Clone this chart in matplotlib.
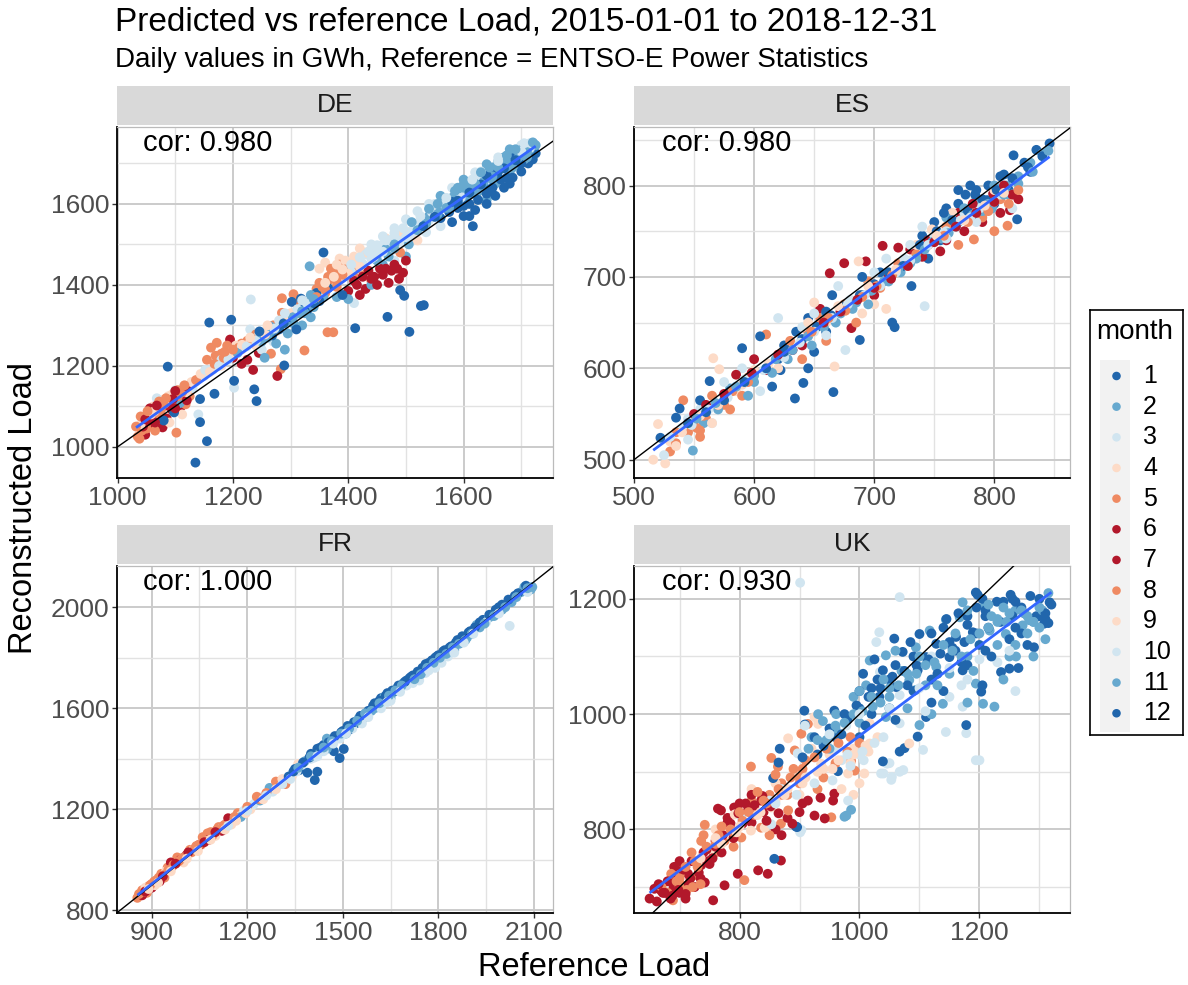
import numpy as np
import matplotlib
matplotlib.use("Agg")
import matplotlib.pyplot as plt
from matplotlib.patches import Rectangle
from matplotlib.ticker import MultipleLocator

plt.rcParams['font.family'] = ['Liberation Sans', 'DejaVu Sans']

# ---------------- data ----------------
months = [1, 2, 3, 4, 5, 6, 7, 8, 9, 10, 11, 12]
month_colors = ['#2166AC', '#67A9CF', '#D1E5F0', '#FDDBC7', '#EF8A62', '#B2182B',
                '#B2182B', '#EF8A62', '#FDDBC7', '#D1E5F0', '#67A9CF', '#2166AC']
countries = ['DE', 'ES', 'FR', 'UK']
cor_labels = ['cor: 0.980', 'cor: 0.980', 'cor: 1.000', 'cor: 0.930']

# DE: reference load, reconstructed load, month
de_ref = [
    1048, 1060, 1072, 1085, 1095, 1058, 1110, 1078,
    1035, 1042, 1052, 1065, 1070, 1088, 1100, 1118, 1038, 1102, 1125,
    1062, 1075, 1090, 1112, 1125,
    1068, 1100, 1130, 1140,
    1087, 1135, 1155, 1143, 1143, 1168, 1080, 1098,
    1060, 1108,
    1155, 1170, 1185, 1162, 1172, 1195, 1215, 1230, 1250, 1285, 1305, 1309, 1285, 1266, 1324, 1283,
    1195, 1200, 1215, 1225, 1235, 1277, 1245,
    1180, 1205, 1240, 1260, 1275, 1150,
    1160, 1200, 1202, 1231, 1250, 1270, 1290, 1230, 1310,
    1255, 1275, 1295, 1305, 1320, 1335, 1290,
    1159, 1197, 1202, 1237, 1241, 1289, 1302, 1318, 1268, 1310, 1330,
    1345, 1355, 1365, 1375, 1385, 1395, 1360, 1380, 1405, 1364, 1374, 1420, 1440,
    1400, 1415, 1430, 1445, 1460, 1475, 1488, 1495, 1470, 1420,
    1360, 1385, 1410, 1430, 1350, 1400,
    1420, 1440, 1460, 1475, 1495, 1450, 1510, 1480, 1410,
    1357, 1380, 1400, 1440, 1333, 1460, 1500,
    1357, 1412, 1468, 1490, 1497, 1506, 1526, 1531, 1390, 1350,
    1520, 1540, 1555, 1575, 1590, 1610, 1535, 1650, 1700, 1715, 1560,
    1530, 1550, 1570, 1590, 1605, 1620, 1635, 1645, 1660, 1675, 1690, 1700, 1710, 1720, 1625, 1655, 1680, 1695, 1640, 1665,
    1560, 1580, 1600, 1616, 1620, 1640, 1655, 1670, 1685, 1700, 1712, 1725, 1630, 1660, 1690, 1715, 1600, 1575, 1645, 1675,
    1585, 1615, 1650, 1685, 1705, 1722,
    1505, 1480, 1520,
    1490,
    1045, 1055, 1068, 1080, 1092, 1105, 1115, 1050, 1062, 1075,
    1055, 1065, 1090, 1100, 1120, 1044,
    1040, 1058, 1082, 1095, 1120,
    1085, 1115, 1150, 1165, 1135,
    1180, 1200, 1190, 1210, 1225, 1240, 1255, 1270,
    1195, 1215, 1230, 1260, 1285, 1300, 1320, 1340,
    1215, 1245, 1265, 1285, 1300, 1320, 1340, 1355, 1180, 1170,
    1250, 1265, 1280, 1300, 1315, 1330, 1345, 1340, 1325, 1260,
    1300, 1320, 1340, 1345, 1280,
    1350, 1365, 1378, 1390, 1400, 1410, 1425, 1370, 1385,
    1410, 1425, 1440, 1455, 1465, 1480, 1500, 1435, 1450, 1485,
    1380, 1395, 1420, 1445, 1465,
    1430, 1450, 1470, 1490, 1505, 1515, 1440, 1460,
    1450, 1470, 1480, 1505,
    1545, 1565, 1585, 1600, 1620, 1640, 1660, 1680, 1695, 1710,
    1540, 1560, 1580, 1600, 1615, 1630, 1650, 1665, 1680, 1695, 1705, 1715, 1725, 1590, 1610, 1640, 1670, 1700,
    1590, 1610, 1625, 1650, 1665, 1680, 1700, 1720, 1610, 1640,
    1620, 1635, 1660, 1685, 1700, 1710,
    1032, 1040, 1048, 1056, 1064, 1072, 1080, 1088, 1096, 1104, 1112, 1120, 1128, 1136, 1144, 1052, 1068, 1084, 1100, 1116,
    1152, 1160, 1168, 1176, 1184, 1192, 1200, 1208, 1216, 1224, 1232, 1240, 1248, 1256, 1264, 1272, 1280, 1288, 1296, 1304, 1312, 1320, 1328, 1186, 1246,
    1335, 1345, 1355, 1365, 1375, 1385, 1395, 1405, 1415, 1425, 1435, 1445, 1455, 1465, 1475, 1485, 1495, 1505, 1515, 1340, 1360, 1380, 1400, 1420, 1440, 1460, 1480, 1500, 1520, 1390,
    1525, 1535, 1545, 1555, 1565, 1575, 1585, 1595, 1605, 1615, 1625, 1635, 1645, 1655, 1665, 1675, 1685, 1695, 1705, 1715, 1530, 1550, 1570, 1590, 1610, 1630, 1650, 1670, 1690, 1710, 1620, 1660, 1700, 1580, 1640,
    1480, 1500, 1520, 1540, 1560, 1580, 1600, 1620, 1640, 1660, 1680, 1550, 1590, 1630,
    1360, 1375, 1390, 1405, 1420, 1435, 1450, 1465, 1480, 1495, 1510, 1525, 1540, 1555, 1570, 1585, 1600, 1615, 1630, 1645, 1660, 1675, 1690, 1705, 1720, 1230, 1260, 1290, 1320, 1200,
]
de_rec = [
    1030, 1055, 1078, 1070, 1090, 1082, 1100, 1048,
    1025, 1040, 1060, 1040, 1095, 1110, 1120, 1105, 1020, 1035, 1125,
    1100, 1115, 1060, 1080, 1150,
    1120, 1140, 1145, 1080,
    1198, 961, 1014, 1061, 1118, 1131, 1065, 1085,
    1068, 1108,
    1215, 1225, 1228, 1245, 1257, 1240, 1255, 1265, 1270, 1367, 1377, 1356, 1331, 1230, 1238, 1192,
    1265, 1220, 1205, 1215, 1190, 1175, 1232,
    1200, 1250, 1250, 1270, 1285, 1180,
    1190, 1235, 1146, 1364, 1240, 1260, 1300, 1290, 1335,
    1220, 1255, 1280, 1305, 1300, 1320, 1240,
    1307, 1314, 1163, 1142, 1113, 1201, 1358, 1366, 1275, 1290, 1340,
    1390, 1400, 1420, 1430, 1415, 1445, 1380, 1395, 1435, 1283, 1283, 1440, 1410,
    1385, 1400, 1390, 1420, 1425, 1435, 1415, 1430, 1405, 1375,
    1455, 1465, 1470, 1480, 1440, 1455,
    1460, 1490, 1500, 1485, 1505, 1470, 1520, 1460, 1355,
    1370, 1370, 1365, 1400, 1446, 1450, 1470,
    1480, 1293, 1321, 1387, 1373, 1284, 1348, 1350, 1375, 1360,
    1540, 1560, 1580, 1590, 1610, 1640, 1530, 1690, 1745, 1750, 1545,
    1555, 1575, 1600, 1625, 1615, 1655, 1645, 1670, 1690, 1700, 1715, 1730, 1720, 1740, 1630, 1650, 1680, 1695, 1610, 1705,
    1565, 1555, 1570, 1545, 1585, 1600, 1620, 1640, 1665, 1680, 1700, 1725, 1660, 1680, 1700, 1740, 1595, 1580, 1635, 1665,
    1600, 1625, 1660, 1690, 1710, 1748,
    1530, 1500, 1510,
    1480,
    1060, 1070, 1085, 1100, 1105, 1125, 1130, 1045, 1075, 1090,
    1065, 1060, 1100, 1095, 1115, 1050,
    1055, 1080, 1108, 1130, 1135,
    1120, 1150, 1175, 1190, 1160,
    1230, 1235, 1250, 1245, 1262, 1278, 1280, 1300,
    1225, 1240, 1260, 1290, 1310, 1330, 1345, 1370,
    1245, 1275, 1290, 1300, 1320, 1345, 1360, 1385, 1215, 1200,
    1260, 1285, 1300, 1310, 1330, 1355, 1370, 1345, 1330, 1270,
    1320, 1340, 1355, 1380, 1290,
    1405, 1410, 1425, 1430, 1440, 1420, 1450, 1440, 1450,
    1410, 1420, 1415, 1440, 1440, 1450, 1460, 1435, 1400, 1440,
    1450, 1460, 1490, 1495, 1515,
    1475, 1485, 1510, 1520, 1530, 1545, 1500, 1520,
    1460, 1470, 1490, 1500,
    1575, 1600, 1615, 1630, 1660, 1680, 1700, 1720, 1735, 1745,
    1570, 1590, 1615, 1640, 1650, 1670, 1690, 1700, 1720, 1730, 1740, 1735, 1745, 1620, 1645, 1680, 1715, 1725,
    1590, 1600, 1610, 1640, 1660, 1650, 1700, 1710, 1570, 1625,
    1665, 1680, 1705, 1710, 1720, 1715,
    1050, 1075, 1068, 1095, 1088, 1112, 1105, 1125, 1118, 1140, 1135, 1150, 1160, 1165, 1180, 1088, 1102, 1120, 1138, 1152,
    1190, 1185, 1205, 1200, 1220, 1215, 1238, 1232, 1252, 1248, 1268, 1262, 1282, 1278, 1298, 1292, 1312, 1305, 1325, 1320, 1340, 1335, 1355, 1235, 1285,
    1375, 1370, 1395, 1392, 1418, 1412, 1438, 1432, 1458, 1452, 1478, 1470, 1495, 1488, 1512, 1505, 1530, 1522, 1548, 1365, 1388, 1408, 1428, 1445, 1465, 1482, 1500, 1518, 1535, 1425,
    1560, 1552, 1580, 1575, 1600, 1592, 1622, 1615, 1642, 1636, 1662, 1655, 1682, 1676, 1702, 1695, 1722, 1715, 1740, 1738, 1545, 1568, 1590, 1608, 1628, 1648, 1668, 1688, 1708, 1728, 1650, 1690, 1730, 1605, 1670,
    1540, 1562, 1582, 1600, 1620, 1640, 1660, 1678, 1698, 1715, 1735, 1600, 1640, 1680,
    1405, 1420, 1438, 1450, 1468, 1482, 1498, 1510, 1528, 1540, 1555, 1570, 1588, 1600, 1615, 1632, 1648, 1660, 1678, 1690, 1706, 1720, 1735, 1750, 1752, 1270, 1300, 1330, 1362, 1240,
]
de_month = [
    7, 7, 7, 7, 7, 7, 7, 7,
    5, 5, 5, 5, 5, 5, 5, 5, 5, 5, 5,
    4, 4, 4, 4, 4,
    3, 3, 3, 3,
    1, 1, 1, 1, 1, 1, 1, 1,
    2, 2,
    8, 8, 8, 8, 8, 8, 8, 8, 8, 8, 8, 8, 8, 8, 8, 8,
    6, 6, 6, 6, 6, 6, 6,
    9, 9, 9, 9, 9, 9,
    10, 10, 10, 10, 10, 10, 10, 10, 10,
    11, 11, 11, 11, 11, 11, 11,
    12, 12, 12, 12, 12, 12, 12, 12, 12, 12, 12,
    5, 5, 5, 5, 5, 5, 5, 5, 5, 5, 5, 5, 5,
    7, 7, 7, 7, 7, 7, 7, 7, 7, 7,
    4, 4, 4, 4, 4, 4,
    3, 3, 3, 3, 3, 3, 3, 3, 3,
    2, 2, 2, 2, 2, 2, 2,
    1, 1, 1, 1, 1, 1, 1, 1, 1, 1,
    10, 10, 10, 10, 10, 10, 10, 10, 10, 10, 10,
    2, 2, 2, 2, 2, 2, 2, 2, 2, 2, 2, 2, 2, 2, 2, 2, 2, 2, 2, 2,
    12, 12, 12, 12, 12, 12, 12, 12, 12, 12, 12, 12, 12, 12, 12, 12, 12, 12, 12, 12,
    11, 11, 11, 11, 11, 11,
    9, 9, 9,
    8,
    8, 8, 8, 8, 8, 8, 8, 8, 8, 8,
    6, 6, 6, 6, 6, 6,
    9, 9, 9, 9, 9,
    10, 10, 10, 10, 10,
    5, 5, 5, 5, 5, 5, 5, 5,
    9, 9, 9, 9, 9, 9, 9, 9,
    3, 3, 3, 3, 3, 3, 3, 3, 3, 3,
    11, 11, 11, 11, 11, 11, 11, 11, 11, 11,
    12, 12, 12, 12, 12,
    8, 8, 8, 8, 8, 8, 8, 8, 8,
    6, 6, 6, 6, 6, 6, 6, 6, 6, 6,
    9, 9, 9, 9, 9,
    10, 10, 10, 10, 10, 10, 10, 10,
    11, 11, 11, 11,
    10, 10, 10, 10, 10, 10, 10, 10, 10, 10,
    11, 11, 11, 11, 11, 11, 11, 11, 11, 11, 11, 11, 11, 11, 11, 11, 11, 11,
    1, 1, 1, 1, 1, 1, 1, 1, 1, 1,
    2, 2, 2, 2, 2, 2,
    5, 8, 6, 7, 9, 5, 8, 4, 6, 5, 8, 7, 9, 5, 4, 8, 6, 5, 7, 8,
    10, 9, 5, 3, 8, 10, 4, 11, 9, 3, 5, 10, 2, 9, 11, 3, 10, 12, 4, 11, 3, 2, 10, 8, 12,
    11, 8, 5, 12, 8, 9, 5, 10, 4, 3, 9, 10, 3, 11, 10, 3, 9, 10, 3, 2, 5, 8, 4, 9, 10, 3, 11, 10, 2, 8,
    10, 2, 3, 11, 10, 2, 11, 3, 2, 11, 10, 2, 11, 1, 2, 11, 12, 2, 11, 10, 1, 12, 2, 1, 12, 1, 11, 12, 1, 2, 11, 2, 10, 12, 1,
    3, 10, 3, 10, 11, 3, 2, 10, 11, 3, 2, 10, 11, 3,
    9, 4, 9, 3, 10, 3, 10, 3, 10, 3, 11, 10, 2, 11, 10, 2, 11, 3, 2, 11, 10, 2, 11, 10, 2, 9, 4, 3, 10, 5,
]

# ES
es_ref = [
    516, 526, 520, 566, 571, 548, 585, 530,
    530, 541, 545, 555, 560, 575, 590, 535, 595, 610,
    549, 558, 580, 600, 570,
    545, 555, 565, 575, 540, 590, 620, 605,
    522, 538, 535, 563, 590, 605, 555, 580, 600, 615,
    585, 550, 600, 610, 560,
    634, 641, 666, 620, 625, 635, 645, 655, 665, 672, 688, 700, 715, 717, 731, 650, 660, 690, 705, 680, 622, 645,
    663, 675, 693, 681, 707, 720, 640, 655, 700, 712, 632,
    667, 687, 660, 690, 620, 650, 700, 710,
    630, 645, 660, 675, 695, 705, 720, 655, 685, 640,
    676, 742, 625, 650, 670, 690, 710, 680, 700, 725, 640,
    628, 648, 668, 682, 698, 712, 722, 695, 660, 615,
    776, 785, 794, 819, 816, 846, 835, 740, 750, 760, 770, 780, 795, 805, 812, 790, 765, 745, 755, 825, 830, 800, 770,
    799, 813, 730, 745, 760, 775, 790, 805, 770, 755, 740,
    811, 800, 783, 735, 760, 770, 790, 805, 745,
    748, 770, 780, 800, 765, 735, 815,
    730, 750, 760, 775, 790, 805, 820, 740, 785, 815,
    735, 748, 760, 775, 785, 798, 810, 820, 830, 840, 770, 800, 812,
    535, 545, 558, 570, 582, 595, 565, 552,
    540, 555, 570, 590, 600, 612,
    530, 548, 562, 578, 592, 608, 625,
    545, 560, 575, 592, 610, 625,
    552, 568, 585, 600, 618,
    575, 598, 620,
    640, 652, 664, 676, 688, 700, 712, 724, 660, 690,
    632, 645, 658, 672, 685, 697, 708, 720, 730,
    638, 650, 665, 678, 692, 705, 718, 730, 660,
    648, 662, 676, 690, 702, 715, 728,
    658, 672, 686, 700, 714, 728,
    645, 670, 695, 718,
    738, 752, 765, 778, 790, 802, 815, 828, 840, 758, 784, 808,
    742, 756, 768, 782, 795, 808, 820, 832, 845, 762, 790,
    745, 758, 772, 788, 800, 760, 780,
    750, 768, 785, 800, 815, 782, 808, 820,
    758, 778, 795, 812, 820,
    752, 775, 792, 808,
    525, 535, 545, 555, 565, 580, 595,
]
es_rec = [
    500, 496, 539, 611, 599, 540, 575, 520,
    509, 565, 530, 525, 545, 560, 570, 518, 590, 637,
    510, 540, 578, 585, 555,
    545, 555, 540, 585, 535, 600, 655, 575,
    524, 556, 546, 586, 622, 635, 565, 575, 595, 580,
    593, 550, 610, 598, 560,
    567, 584, 574, 610, 625, 640, 655, 650, 680, 662, 631, 690, 650, 645, 690, 618, 640, 680, 705, 670, 598, 600,
    704, 715, 717, 644, 734, 732, 625, 665, 680, 700, 620,
    602, 717, 650, 660, 600, 672, 670, 665,
    630, 640, 630, 670, 695, 688, 715, 655, 650, 610,
    620, 668, 615, 660, 690, 700, 720, 675, 705, 720, 645,
    610, 625, 650, 665, 685, 695, 705, 670, 660, 595,
    790, 795, 784, 763, 833, 846, 839, 745, 760, 775, 795, 800, 800, 810, 795, 770, 760, 720, 740, 825, 815, 780, 780,
    791, 773, 730, 740, 740, 750, 760, 770, 770, 728, 722,
    756, 750, 741, 725, 755, 735, 765, 785, 735,
    752, 760, 775, 795, 770, 735, 790,
    735, 745, 750, 770, 780, 790, 800, 755, 760, 775,
    720, 738, 765, 775, 785, 775, 800, 810, 825, 835, 760, 800, 790,
    530, 540, 548, 560, 575, 585, 570, 535,
    530, 548, 560, 582, 598, 605,
    525, 538, 555, 568, 588, 598, 612,
    540, 552, 565, 585, 600, 618,
    545, 562, 580, 592, 610,
    572, 595, 615,
    632, 645, 658, 668, 680, 692, 705, 712, 662, 700,
    620, 635, 645, 660, 672, 685, 695, 708, 715,
    628, 640, 655, 670, 680, 690, 705, 718, 636,
    640, 655, 663, 678, 690, 702, 712,
    650, 662, 675, 688, 698, 712,
    650, 668, 690, 708,
    735, 750, 762, 772, 785, 795, 808, 820, 832, 770, 790, 812,
    730, 742, 755, 768, 780, 790, 802, 815, 838, 748, 772,
    735, 748, 762, 775, 782, 742, 765,
    738, 755, 770, 782, 790, 780, 800, 785,
    745, 760, 772, 780, 795,
    745, 762, 778, 792,
    505, 515, 522, 532, 540, 555, 570,
]
es_month = [
    4, 4, 4, 4, 4, 4, 4, 4,
    5, 5, 5, 5, 5, 5, 5, 5, 5, 5,
    2, 2, 2, 2, 2,
    3, 3, 3, 3, 3, 3, 3, 3,
    1, 1, 1, 1, 1, 1, 1, 1, 1, 1,
    6, 6, 6, 6, 6,
    12, 12, 12, 12, 12, 12, 12, 12, 12, 12, 12, 12, 12, 12, 12, 12, 12, 12, 12, 12, 12, 12,
    7, 7, 7, 7, 7, 7, 7, 7, 7, 7, 7,
    9, 9, 9, 9, 9, 9, 9, 9,
    8, 8, 8, 8, 8, 8, 8, 8, 8, 8,
    10, 10, 10, 10, 10, 10, 10, 10, 10, 10, 10,
    11, 11, 11, 11, 11, 11, 11, 11, 11, 11,
    1, 1, 1, 1, 1, 1, 1, 1, 1, 1, 1, 1, 1, 1, 1, 1, 1, 1, 1, 1, 1, 1, 1,
    6, 6, 6, 6, 6, 6, 6, 6, 6, 6, 6,
    5, 5, 5, 5, 5, 5, 5, 5, 5,
    4, 4, 4, 4, 4, 4, 4,
    3, 3, 3, 3, 3, 3, 3, 3, 3, 3,
    2, 2, 2, 2, 2, 2, 2, 2, 2, 2, 2, 2, 2,
    8, 8, 8, 8, 8, 8, 8, 8,
    9, 9, 9, 9, 9, 9,
    10, 10, 10, 10, 10, 10, 10,
    12, 12, 12, 12, 12, 12,
    11, 11, 11, 11, 11,
    7, 7, 7,
    1, 1, 1, 1, 1, 1, 1, 1, 1, 1,
    2, 2, 2, 2, 2, 2, 2, 2, 2,
    3, 3, 3, 3, 3, 3, 3, 3, 3,
    5, 5, 5, 5, 5, 5, 5,
    6, 6, 6, 6, 6, 6,
    4, 4, 4, 4,
    12, 12, 12, 12, 12, 12, 12, 12, 12, 12, 12, 12,
    11, 11, 11, 11, 11, 11, 11, 11, 11, 11, 11,
    10, 10, 10, 10, 10, 10, 10,
    7, 7, 7, 7, 7, 7, 7, 7,
    8, 8, 8, 8, 8,
    9, 9, 9, 9,
    10, 9, 3, 8, 4, 5, 2,
]

# FR
fr_ref = [
    855, 870, 885, 900, 915, 930, 950, 965, 980, 1000, 1020, 1040, 1060, 1075, 1085, 1100, 1110, 1130, 1145, 1170, 1055, 890, 940,
    870, 900, 925, 960, 990, 1010, 1050, 1080, 1120, 1140,
    880, 910, 945, 1000, 1030, 1070, 1100, 1150, 1180, 1210,
    1120, 1160, 1190, 1220, 1250, 1280, 1300, 1230,
    1180, 1240, 1270, 1290,
    1200, 1230, 1260, 1290, 1320, 1240,
    1310, 1340, 1360,
    1330, 1350, 1363, 1389, 1412, 1420, 1472, 1490, 1503, 1400, 1420, 1440, 1460, 1480, 1500, 1520, 1540, 1560, 1580, 1600, 1620, 1640, 1660, 1680,
    1380, 1430, 1450, 1470, 1510, 1530, 1550, 1575, 1600, 1630, 1650, 1670, 1690, 1450,
    1370, 1410, 1440, 1490, 1530, 1560, 1620, 1650, 1400,
    1700, 1720, 1740, 1760, 1780, 1800, 1820, 1840, 1860, 1880, 1900, 1940, 1980, 2000, 2040, 1710, 1790, 1850,
    1705, 1730, 1755, 1775, 1800, 1830, 1850, 1870, 1890, 1920, 1960, 2000, 2030, 2060, 2090, 1930, 2070,
    1720, 1760, 1790, 1810, 1830, 2024, 2080, 1950, 1700, 1740,
    860, 878, 895, 908, 922, 938, 952, 968, 985, 995, 1008, 1025, 1035, 1048, 1065, 1090, 1105, 1125, 1160,
    880, 935, 975, 1015, 1065, 1100,
    890, 920, 960, 1010, 1045, 1085, 1130, 1165, 1195, 1250, 1290,
    1140, 1200, 1260, 1310, 1335, 1355,
    1345, 1375, 1395, 1430, 1455, 1475, 1495, 1515, 1535, 1555, 1575, 1595, 1615, 1635, 1655, 1675, 1695,
    1360, 1400, 1440, 1465, 1495, 1520, 1545, 1570, 1590, 1615, 1645, 1665, 1685,
    1420, 1470, 1510, 1580, 1640, 1680,
    1715, 1735, 1750, 1770, 1795, 1815, 1835, 1855, 1875, 1895, 1915, 1930, 1960, 1990, 2020, 2050, 2075,
    1725, 1745, 1765, 1785, 1805, 1825, 1845, 1865, 1885, 1905, 1945, 1975, 2010, 2045, 2080, 2095,
    1770, 1850, 1880, 1910, 1990,
]
fr_rec = [
    850, 880, 870, 905, 920, 945, 970, 975, 1010, 1010, 1040, 1055, 1090, 1105, 1110, 1105, 1130, 1140, 1150, 1185, 1060, 895, 930,
    860, 890, 915, 990, 1000, 1020, 1060, 1080, 1115, 1165,
    890, 900, 955, 990, 1040, 1075, 1095, 1140, 1175, 1200,
    1125, 1160, 1195, 1220, 1250, 1270, 1300, 1240,
    1170, 1235, 1285, 1290,
    1210, 1250, 1265, 1310, 1300, 1240,
    1320, 1330, 1380,
    1330, 1360, 1355, 1345, 1316, 1349, 1430, 1403, 1439, 1420, 1440, 1455, 1470, 1485, 1510, 1515, 1540, 1555, 1590, 1620, 1640, 1660, 1665, 1690,
    1390, 1430, 1440, 1480, 1500, 1530, 1560, 1570, 1600, 1645, 1640, 1680, 1700, 1480,
    1375, 1405, 1430, 1480, 1520, 1540, 1600, 1630, 1400,
    1710, 1730, 1745, 1775, 1790, 1810, 1830, 1845, 1870, 1880, 1905, 1950, 1990, 2010, 2045, 1720, 1800, 1850,
    1700, 1725, 1750, 1770, 1790, 1820, 1830, 1860, 1880, 1930, 1960, 1990, 2020, 2060, 2070, 1920, 2080,
    1700, 1740, 1760, 1780, 1805, 1926, 2060, 1940, 1690, 1710,
    865, 875, 900, 915, 930, 940, 960, 980, 995, 1005, 1015, 1030, 1045, 1060, 1075, 1095, 1120, 1135, 1170,
    875, 935, 985, 1030, 1070, 1110,
    885, 910, 955, 1005, 1035, 1080, 1120, 1155, 1185, 1240, 1280,
    1135, 1195, 1255, 1300, 1320, 1350,
    1350, 1385, 1405, 1445, 1465, 1490, 1505, 1530, 1545, 1570, 1580, 1610, 1630, 1650, 1670, 1690, 1705,
    1365, 1410, 1445, 1470, 1500, 1520, 1550, 1580, 1590, 1620, 1650, 1670, 1690,
    1410, 1460, 1500, 1565, 1625, 1665,
    1725, 1745, 1760, 1780, 1805, 1825, 1840, 1860, 1885, 1900, 1920, 1940, 1970, 2000, 2030, 2055, 2085,
    1715, 1735, 1760, 1780, 1800, 1815, 1840, 1855, 1870, 1895, 1935, 1965, 2000, 2040, 2075, 2080,
    1750, 1820, 1860, 1895, 1975,
]
fr_month = [
    5, 5, 5, 5, 5, 5, 5, 5, 5, 5, 5, 5, 5, 5, 5, 5, 5, 5, 5, 5, 5, 5, 5,
    6, 6, 6, 6, 6, 6, 6, 6, 6, 6,
    9, 9, 9, 9, 9, 9, 9, 9, 9, 9,
    10, 10, 10, 10, 10, 10, 10, 10,
    11, 11, 11, 11,
    8, 8, 8, 8, 8, 8,
    4, 4, 4,
    1, 1, 1, 1, 1, 1, 1, 1, 1, 1, 1, 1, 1, 1, 1, 1, 1, 1, 1, 1, 1, 1, 1, 1,
    2, 2, 2, 2, 2, 2, 2, 2, 2, 2, 2, 2, 2, 2,
    3, 3, 3, 3, 3, 3, 3, 3, 3,
    12, 12, 12, 12, 12, 12, 12, 12, 12, 12, 12, 12, 12, 12, 12, 12, 12, 12,
    11, 11, 11, 11, 11, 11, 11, 11, 11, 11, 11, 11, 11, 11, 11, 11, 11,
    10, 10, 10, 10, 10, 10, 10, 10, 10, 10,
    8, 8, 8, 8, 8, 8, 8, 8, 8, 8, 8, 8, 8, 8, 8, 8, 8, 8, 8,
    7, 7, 7, 7, 7, 7,
    4, 4, 4, 4, 4, 4, 4, 4, 4, 4, 4,
    3, 3, 3, 3, 3, 3,
    12, 12, 12, 12, 12, 12, 12, 12, 12, 12, 12, 12, 12, 12, 12, 12, 12,
    11, 11, 11, 11, 11, 11, 11, 11, 11, 11, 11, 11, 11,
    10, 10, 10, 10, 10, 10,
    1, 1, 1, 1, 1, 1, 1, 1, 1, 1, 1, 1, 1, 1, 1, 1, 1,
    2, 2, 2, 2, 2, 2, 2, 2, 2, 2, 2, 2, 2, 2, 2, 2,
    3, 3, 3, 3, 3,
]

# UK
uk_ref = [
    658, 669, 691, 714, 725, 756, 769, 764, 791, 814, 836, 847, 847, 869, 831, 797, 775, 742, 736, 914,
    686, 703, 689, 742, 736, 775, 803, 836, 819, 853, 864, 903, 914, 892, 825, 869, 953, 992, 986,
    925, 956, 958, 942, 680, 700, 720, 740, 760, 780, 800, 820, 840, 860, 880, 900, 710, 750, 790,
    958, 881, 808, 764, 700, 720, 760, 790, 820, 850, 870, 900, 930, 850, 880, 910, 940, 730, 670,
    753, 881, 925, 931, 936, 981, 1008, 781, 792, 842, 819, 853,
    760, 820, 860, 890, 920, 950, 970, 1000, 990, 900, 730, 700,
    803, 903, 981, 853, 897, 901, 945, 850, 870, 960,
    867, 908, 894, 856, 858, 964, 944, 958, 909, 865, 896, 1194, 1197, 1252, 1317, 1308, 1315, 1291, 1229, 1058, 1072, 1128, 1161, 1189, 1250, 1236, 1203, 1172, 1150, 1111, 1097,
    975, 986, 931, 961, 939, 978, 1208, 1172, 1144, 1167, 1117, 1044, 1094, 1217, 1244, 1272, 1283, 1261, 1194, 1128, 1083, 1017, 1011, 1094, 1139,
    901, 909, 978, 1012, 1034, 1067, 945, 1007, 1046, 1073, 1040, 1054, 1200, 1033, 1028, 1067, 1122, 1150, 1172, 1178, 1194, 1144, 1067, 994, 1050, 1067, 1053, 1036, 1106, 1000, 970, 1120, 1180, 1230, 1260,
    1061, 1039, 1006, 1033, 1178, 1111, 1097, 1067, 1075, 1039, 1100, 980, 1000, 1020, 1050, 1080, 1120, 1140, 1160, 1200, 1220, 1260, 1280, 1020, 1060, 1000, 960, 930, 1140, 1180, 1210,
    1206, 1225, 1100, 1044, 1022, 960, 990, 1050, 1070, 1110, 1150, 1180, 1230, 1260, 1300, 1310, 1290, 1240, 1180, 1120, 1080, 1000, 950, 920,
    1083, 1017, 1017, 990,
    665, 678, 695, 705, 718, 732, 748, 760, 772, 785, 798, 810, 825, 838, 852, 865, 700, 745, 780, 820,
    690, 715, 735, 755, 770, 790, 805, 822, 845, 870, 888, 905, 935,
    680, 700, 725, 745, 765, 785, 805, 825, 845, 865, 885, 905, 925, 945, 965, 985, 710, 740, 770, 800, 830, 860, 890,
    695, 730, 760, 790, 815, 840, 870, 900, 935, 960, 980, 1000,
    735, 770, 800, 830, 860, 880, 910, 940, 965, 990, 1010, 1030,
    760, 795, 835, 875, 905, 930, 955, 985, 1015,
    860, 895, 925, 955, 985, 1005, 1025,
    905, 925, 950, 975, 995, 1015, 1035, 1055, 1075, 1095, 1115, 1135, 1155, 1175, 1195, 1215, 1235, 1255, 1275, 1295, 1310, 1010, 1050, 1090, 1130, 1170, 1210, 1250,
    940, 970, 1000, 1030, 1060, 1090, 1120, 1150, 1180, 1210, 1240, 1270, 1300, 1025, 1085, 1145, 1205, 1265, 1120, 1180,
    915, 945, 975, 1005, 1035, 1065, 1095, 1125, 1155, 1185, 1215, 1245, 1275, 1305, 1040, 1100, 1160, 1220, 1280,
    930, 960, 990, 1020, 1050, 1080, 1110, 1140, 1170, 1200, 1230, 1260, 1290, 1000, 1060, 1130, 1190, 1250,
    950, 1000, 1050, 1100, 1150, 1200, 1250, 980, 1040, 1110, 1170,
    1240, 1260, 1280, 1300, 1320, 1230, 1250, 1270, 1290, 1310,
    650, 662, 675, 688, 700, 712,
    1255, 1270, 1285, 1300, 1315, 1195, 1205, 1215, 1180, 1165, 672, 685, 698, 710, 722, 735,
]
uk_rec = [
    697, 694, 735, 723, 700, 677, 833, 836, 838, 833, 850, 855, 723, 746, 729, 723, 703, 708, 738, 850,
    723, 703, 677, 808, 780, 780, 786, 803, 909, 924, 909, 966, 983, 937, 833, 810, 821, 902, 919,
    824, 850, 862, 819, 710, 690, 745, 760, 780, 820, 845, 812, 830, 800, 820, 830, 680, 740, 800,
    907, 833, 712, 791, 720, 760, 760, 770, 850, 860, 880, 880, 870, 790, 860, 920, 890, 720, 700,
    763, 958, 995, 983, 914, 897, 897, 792, 826, 803, 798, 838,
    800, 870, 880, 900, 940, 930, 870, 880, 860, 860, 740, 700,
    822, 799, 850, 809, 932, 795, 948, 850, 870, 940,
    940, 1006, 805, 889, 749, 901, 952, 1006, 982, 916, 804, 1211, 1207, 1207, 1194, 1157, 1158, 1116, 1195, 1131, 1108, 1122, 1134, 1142, 1079, 1073, 1039, 1076, 1099, 1099, 1076,
    822, 834, 1000, 1000, 988, 824, 1187, 1194, 1164, 1168, 1145, 1102, 1116, 1145, 1139, 1154, 1163, 1100, 1053, 1082, 1059, 1093, 1050, 1042, 1018,
    1228, 980, 980, 981, 1073, 1203, 948, 920, 914, 903, 897, 891, 920, 1142, 1125, 1033, 1059, 1030, 1013, 967, 920, 969, 984, 995, 915, 900, 886, 897, 938, 930, 920, 1100, 1060, 1090, 1040,
    1047, 1076, 1070, 1030, 981, 995, 961, 935, 941, 918, 1139, 990, 1010, 1045, 1060, 1050, 1060, 1040, 1110, 1120, 1100, 1150, 1120, 1000, 990, 960, 960, 930, 1150, 1170, 1170,
    1018, 1013, 981, 995, 1013, 975, 1030, 1030, 1075, 1050, 1070, 1100, 1120, 1180, 1150, 1130, 1100, 1060, 1020, 1000, 1010, 985, 940, 960,
    949, 949, 984, 940,
    705, 690, 712, 730, 715, 725, 745, 770, 790, 810, 828, 845, 842, 858, 840, 828, 745, 765, 812, 860,
    700, 705, 715, 750, 760, 785, 810, 835, 815, 790, 810, 845, 855,
    690, 715, 745, 770, 790, 800, 815, 825, 845, 870, 890, 905, 925, 940, 950, 960, 735, 790, 805, 830, 865, 895, 905,
    710, 735, 775, 795, 830, 850, 860, 890, 900, 915, 935, 950,
    750, 775, 805, 825, 850, 870, 890, 905, 920, 930, 945, 960,
    785, 795, 830, 860, 880, 900, 905, 915, 935,
    845, 860, 880, 885, 910, 935, 950,
    925, 960, 975, 1000, 1015, 1030, 1045, 1065, 1075, 1085, 1095, 1105, 1115, 1125, 1140, 1150, 1160, 1170, 1175, 1170, 1165, 980, 1010, 1040, 1070, 1090, 1110, 1130,
    945, 965, 1040, 1060, 1085, 1100, 1140, 1125, 1155, 1180, 1195, 1140, 1170, 1095, 1125, 1165, 1050, 1080, 1020, 1085,
    940, 955, 985, 1005, 1020, 1050, 1070, 1090, 1110, 1130, 1150, 1160, 1175, 1180, 1060, 1100, 1140, 1170, 1140,
    955, 980, 1000, 1030, 1045, 1070, 1085, 1120, 1100, 1140, 1165, 1120, 1160, 1040, 1110, 1050, 1075, 1100,
    965, 1000, 1010, 1045, 1080, 1095, 1110, 930, 960, 1005, 1050,
    1185, 1195, 1170, 1200, 1190, 1160, 1175, 1185, 1160, 1175,
    680, 675, 690, 685, 700, 695,
    1200, 1180, 1205, 1185, 1210, 1185, 1200, 1190, 1180, 1175, 690, 680, 695, 688, 700, 705,
]
uk_month = [
    6, 6, 6, 6, 6, 6, 6, 6, 6, 6, 6, 6, 6, 6, 6, 6, 6, 6, 6, 6,
    5, 5, 5, 5, 5, 5, 5, 5, 5, 5, 5, 5, 5, 5, 5, 5, 5, 5, 5,
    7, 7, 7, 7, 7, 7, 7, 7, 7, 7, 7, 7, 7, 7, 7, 7, 7, 7, 7,
    8, 8, 8, 8, 8, 8, 8, 8, 8, 8, 8, 8, 8, 8, 8, 8, 8, 8, 8,
    4, 4, 4, 4, 4, 4, 4, 4, 4, 4, 4, 4,
    9, 9, 9, 9, 9, 9, 9, 9, 9, 9, 9, 9,
    3, 3, 3, 3, 3, 3, 3, 3, 3, 3,
    1, 1, 1, 1, 1, 1, 1, 1, 1, 1, 1, 1, 1, 1, 1, 1, 1, 1, 1, 1, 1, 1, 1, 1, 1, 1, 1, 1, 1, 1, 1,
    2, 2, 2, 2, 2, 2, 2, 2, 2, 2, 2, 2, 2, 2, 2, 2, 2, 2, 2, 2, 2, 2, 2, 2, 2,
    10, 10, 10, 10, 10, 10, 10, 10, 10, 10, 10, 10, 10, 10, 10, 10, 10, 10, 10, 10, 10, 10, 10, 10, 10, 10, 10, 10, 10, 10, 10, 10, 10, 10, 10,
    12, 12, 12, 12, 12, 12, 12, 12, 12, 12, 12, 12, 12, 12, 12, 12, 12, 12, 12, 12, 12, 12, 12, 12, 12, 12, 12, 12, 12, 12, 12,
    11, 11, 11, 11, 11, 11, 11, 11, 11, 11, 11, 11, 11, 11, 11, 11, 11, 11, 11, 11, 11, 11, 11, 11,
    4, 4, 4, 4,
    6, 6, 6, 6, 6, 6, 6, 6, 6, 6, 6, 6, 6, 6, 6, 6, 6, 6, 6, 6,
    7, 7, 7, 7, 7, 7, 7, 7, 7, 7, 7, 7, 7,
    5, 5, 5, 5, 5, 5, 5, 5, 5, 5, 5, 5, 5, 5, 5, 5, 5, 5, 5, 5, 5, 5, 5,
    8, 8, 8, 8, 8, 8, 8, 8, 8, 8, 8, 8,
    4, 4, 4, 4, 4, 4, 4, 4, 4, 4, 4, 4,
    9, 9, 9, 9, 9, 9, 9, 9, 9,
    3, 3, 3, 3, 3, 3, 3,
    1, 1, 1, 1, 1, 1, 1, 1, 1, 1, 1, 1, 1, 1, 1, 1, 1, 1, 1, 1, 1, 1, 1, 1, 1, 1, 1, 1,
    12, 12, 12, 12, 12, 12, 12, 12, 12, 12, 12, 12, 12, 12, 12, 12, 12, 12, 12, 12,
    2, 2, 2, 2, 2, 2, 2, 2, 2, 2, 2, 2, 2, 2, 2, 2, 2, 2, 2,
    11, 11, 11, 11, 11, 11, 11, 11, 11, 11, 11, 11, 11, 11, 11, 11, 11, 11,
    10, 10, 10, 10, 10, 10, 10, 10, 10, 10, 10,
    11, 1, 2, 12, 1, 11, 2, 12, 11, 1,
    6, 7, 6, 7, 8, 5,
    12, 11, 1, 2, 11, 1, 12, 2, 11, 12, 7, 6, 7, 6, 8, 5,
]

panel_data = {
    'DE': (de_ref, de_rec, de_month),
    'ES': (es_ref, es_rec, es_month),
    'FR': (fr_ref, fr_rec, fr_month),
    'UK': (uk_ref, uk_rec, uk_month),
}

# ---------------- layout (pixels of the 1188x985 reference) ----------------
W, H = 1188, 985
fig = plt.figure(figsize=(W / 100, H / 100), dpi=100)

# left, top, right, bottom in px
boxes = {'DE': (117, 127, 553, 478), 'ES': (634, 127, 1070, 478),
         'FR': (117, 566, 553, 913), 'UK': (634, 566, 1070, 913)}
limits = {'DE': ((999, 1755), (923, 1790), 200, 200),
          'ES': ((500, 863), (480, 864), 100, 100),
          'FR': ((791, 2160), (790, 2163), 300, 400),
          'UK': ((624, 1351), (655, 1257), 200, 200)}
cor_x = {'DE': 0.06, 'ES': 0.064, 'FR': 0.06, 'UK': 0.064}

for name, cor in zip(countries, cor_labels):
    l, t, r, b = boxes[name]
    ax = fig.add_axes([l / W, 1 - b / H, (r - l) / W, (b - t) / H])
    ref, rec, mon = panel_data[name]
    assert len(ref) == len(rec) == len(mon), (name, len(ref), len(rec), len(mon))
    ref = np.array(ref, dtype=float)
    rec = np.array(rec, dtype=float)
    cols = [month_colors[m - 1] for m in mon]

    (xl, yl, xmaj, ymaj) = limits[name]
    ax.set_xlim(xl)
    ax.set_ylim(yl)
    ax.xaxis.set_major_locator(MultipleLocator(xmaj))
    ax.xaxis.set_minor_locator(MultipleLocator(xmaj / 2))
    ax.yaxis.set_major_locator(MultipleLocator(ymaj))
    ax.yaxis.set_minor_locator(MultipleLocator(ymaj / 2))
    ax.grid(which='minor', color='#E2E2E2', lw=1.0)
    ax.grid(which='major', color='#CBCBCB', lw=1.4)
    ax.set_axisbelow(True)

    ax.scatter(ref, rec, c=cols, s=50, linewidths=0, zorder=2)
    ax.axline((0, 0), slope=1, color='black', lw=1.0, zorder=3)
    # linear fit, like geom_smooth(method = "lm")
    m, c0 = np.polyfit(ref, rec, 1)
    xs = np.array([ref.min(), ref.max()])
    ax.plot(xs, m * xs + c0, color='#3366FF', lw=2.0, zorder=4, solid_capstyle='butt')

    ax.text(cor_x[name], 0.954, cor, transform=ax.transAxes, fontsize=21,
            ha='left', va='center', color='black', zorder=5)

    for s in ['left', 'bottom']:
        ax.spines[s].set_color('black')
        ax.spines[s].set_linewidth(1.3)
    for s in ['top', 'right']:
        ax.spines[s].set_color('#BBBBBB')
        ax.spines[s].set_linewidth(0.9)
    ax.tick_params(which='major', length=3.5, width=1, color='#333333',
                   labelsize=19, labelcolor='#4D4D4D', pad=2)
    ax.tick_params(which='minor', length=0)
    ax.xaxis.set_major_formatter(plt.FuncFormatter(lambda v, p: f'{v:.0f}'))
    ax.yaxis.set_major_formatter(plt.FuncFormatter(lambda v, p: f'{v:.0f}'))

    # facet strip
    hgt = b - t
    ax.add_patch(Rectangle((0, 1 + 2 / hgt), 1, 39 / hgt, transform=ax.transAxes,
                           facecolor='#D9D9D9', edgecolor='none', clip_on=False))
    ax.text(0.5, 1 + 21.5 / hgt, name, transform=ax.transAxes, ha='center', va='center',
            fontsize=19, color='#1A1A1A')

# titles and axis labels
fig.text(115 / W, 1 - 22 / H, 'Predicted vs reference Load, 2015-01-01 to 2018-12-31',
         fontsize=24, ha='left', va='center')
fig.text(115 / W, 1 - 60 / H, 'Daily values in GWh, Reference = ENTSO-E Power Statistics',
         fontsize=20, ha='left', va='center')
fig.text(24 / W, 1 - 508 / H, 'Reconstructed Load', rotation=90, fontsize=23.5,
         ha='center', va='center')
fig.text(594 / W, 1 - 967 / H, 'Reference Load', fontsize=23.5, ha='center', va='center')

# legend
lax = fig.add_axes([1090 / W, 1 - 735 / H, 93 / W, 425 / H])
lax.set_xlim(0, 93)
lax.set_ylim(425, 0)
lax.set_xticks([])
lax.set_yticks([])
for s in lax.spines.values():
    s.set_color('black')
    s.set_linewidth(1.2)
lax.add_patch(Rectangle((10, 50), 30, 372, facecolor='#F2F2F2', edgecolor='none'))
lax.text(6, 22, 'month', fontsize=20, ha='left', va='center')
key_y = 66 + 30.66 * np.arange(len(months))
lax.scatter(np.full(len(months), 26.5), key_y, c=month_colors, s=38, linewidths=0)
for yy, mlab in zip(key_y, months):
    lax.text(53, yy, str(mlab), fontsize=18, ha='left', va='center')

fig.savefig('out.png', dpi=100)
